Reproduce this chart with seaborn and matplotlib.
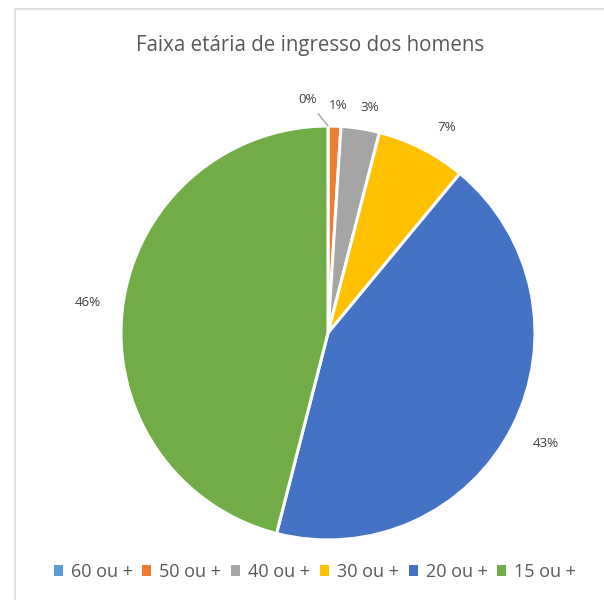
import numpy as np
import matplotlib
matplotlib.use("Agg")
import matplotlib.pyplot as plt
from matplotlib.patches import Rectangle, Patch
import seaborn as sns

# Age bracket of entry (men), share in percent, clockwise from 12 o'clock
categories = ["60 ou +", "50 ou +", "40 ou +", "30 ou +", "20 ou +", "15 ou +"]
shares = [0, 1, 3, 7, 43, 46]
title = "Faixa etária de ingresso dos homens"

sns.set_theme(style="white")
plt.rcParams["font.family"] = ["Open Sans", "DejaVu Sans"]

colors = sns.color_palette(["#5B9BD5", "#ED7D31", "#A5A5A5", "#FFC000", "#4472C4", "#70AD47"])

W, H = 604, 600
fig = plt.figure(figsize=(W / 100, H / 100), dpi=100)
ax = fig.add_axes([0, 0, 1, 1])

# pie geometry in pixels
cx, cy, R = 328, 333, 207

wedges, _ = ax.pie(shares, colors=colors, startangle=90, counterclock=False,
                   wedgeprops=dict(edgecolor="white", linewidth=2.2))

ax.set_xlim((0 - cx) / R, (W - cx) / R)
ax.set_ylim(-(H - cy) / R, cy / R)
ax.set_aspect("auto")
ax.axis("off")

# data labels placed outside each wedge
label_dist = [None, 1.10, 1.11, 1.145, 1.18, 1.17]
label_shift = [0, 0.7, 1.5, 3.0, 0, 0]
for w, v, d, s in zip(wedges, shares, label_dist, label_shift):
    mid = np.deg2rad((w.theta1 + w.theta2) / 2 - s)
    if d is None:
        # zero share: label offset to the left with a leader line
        ax.annotate(f"{v}%", xy=(np.cos(mid), np.sin(mid)),
                    xytext=(-15, 19), textcoords="offset points",
                    ha="center", va="center", fontsize=9.6, color="#404040",
                    arrowprops=dict(arrowstyle="-", color="#a6a6a6", lw=1,
                                    shrinkA=4, shrinkB=0))
        continue
    ax.text(d * np.cos(mid), d * np.sin(mid), f"{v}%", ha="center", va="center",
            fontsize=9.6, color="#404040")

fig.text(310 / W, 1 - 45 / H, title, ha="center", va="center",
         fontsize=14.8, color="#595959")

handles = [Patch(facecolor=c, edgecolor="none") for c in colors]
fig.legend(handles, categories, loc="center", bbox_to_anchor=(315 / W, 1 - 572 / H),
           ncol=6, frameon=False, fontsize=13, labelcolor="#595959",
           handlelength=0.5, handleheight=0.5, handletextpad=0.45,
           columnspacing=0.53, borderpad=0)

# chart-area border
fig.patches.append(Rectangle((14.5 / W, -0.01), 1, 1 - 8.5 / H + 0.01,
                             transform=fig.transFigure, fill=False,
                             edgecolor="#d9d9d9", linewidth=1.2))

fig.savefig("out.png", dpi=100, facecolor="white")
